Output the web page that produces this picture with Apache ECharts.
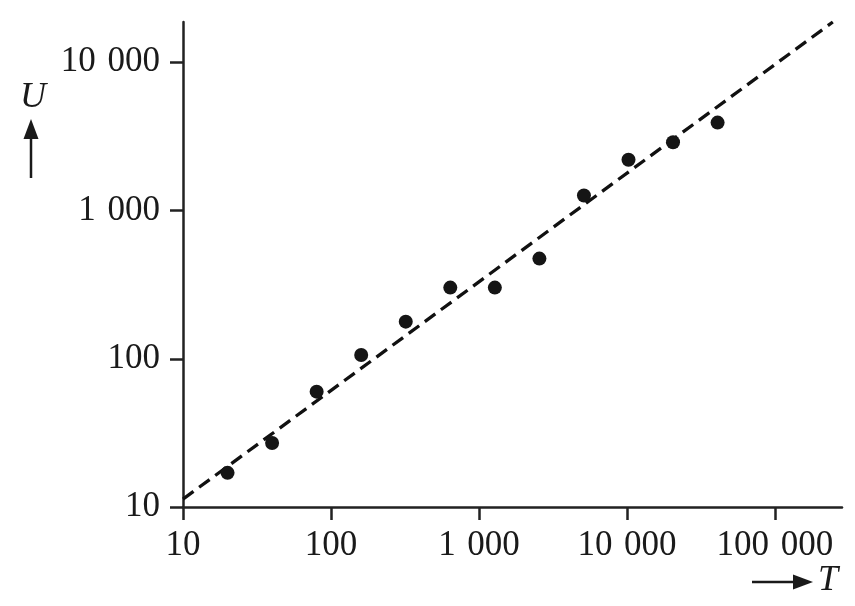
<!DOCTYPE html>
<html>
<head>
<meta charset="utf-8">
<script src="https://cdn.jsdelivr.net/npm/echarts@6/dist/echarts.min.js"></script>
<style>
html,body{margin:0;padding:0;background:#fff;}
#chart{width:855px;height:606px;}
</style>
</head>
<body>
<div id="chart"></div>
<script>
// Data
var T = [20, 40, 80, 160, 320, 640, 1280, 2560, 5120, 10240, 20480, 40960];
var U = [17, 27, 60, 106, 178, 302, 302, 474, 1262, 2200, 2890, 3920];
// Fitted dashed line (two end points)
var fitT = [10, 246000];
var fitU = [11.3, 18700];
// Axis ticks and labels
var xTickValues = [10, 100, 1000, 10000, 100000];
var xTickLabels = ['10', '100', '1\u2004000', '10\u2004000', '100\u2004000'];
var yTickValues = [10, 100, 1000, 10000];
var yTickLabels = ['10', '100', '1\u2004000', '10\u2004000'];
var xMax = 283800;
var yMax = 18700;

var font = '"Liberation Serif", "Times New Roman", serif';
var ink = '#1a1a1a';

function fmt(values, labels) {
  return function (v) {
    for (var i = 0; i < values.length; i++) {
      if (Math.abs(v - values[i]) / values[i] < 1e-6) return labels[i];
    }
    return '';
  };
}

var chart = echarts.init(document.getElementById('chart'), null, {renderer: 'canvas'});
chart.setOption({
  backgroundColor: '#ffffff',
  animation: false,
  grid: {left: 183, right: 13, top: 22, bottom: 99, containLabel: false},
  xAxis: {
    type: 'log', logBase: 10, min: 10, max: xMax,
    axisLine: {show: true, onZero: false, lineStyle: {color: '#222', width: 2.5}},
    axisTick: {show: true, inside: false, length: 13, customValues: xTickValues, lineStyle: {color: '#222', width: 2.5}},
    axisLabel: {show: true, customValues: xTickValues, formatter: fmt(xTickValues, xTickLabels),
      fontFamily: font, fontSize: 35, color: ink, margin: 21},
    splitLine: {show: false},
    minorTick: {show: false}
  },
  yAxis: {
    type: 'log', logBase: 10, min: 10, max: yMax,
    axisLine: {show: true, onZero: false, lineStyle: {color: '#222', width: 2.5}},
    axisTick: {show: true, inside: false, length: 13, customValues: yTickValues, lineStyle: {color: '#222', width: 2.5}},
    axisLabel: {show: true, customValues: yTickValues, formatter: fmt(yTickValues, yTickLabels),
      fontFamily: font, fontSize: 35, color: ink, margin: 23},
    splitLine: {show: false},
    minorTick: {show: false}
  },
  series: [
    {
      type: 'line',
      data: fitT.map(function (t, i) { return [t, fitU[i]]; }),
      showSymbol: false,
      symbol: 'none',
      lineStyle: {color: '#111111', width: 3.3, type: [13, 7]},
      z: 2
    },
    {
      type: 'scatter',
      data: T.map(function (t, i) { return [t, U[i]]; }),
      symbol: 'circle',
      symbolSize: 14,
      itemStyle: {color: '#151515', opacity: 1},
      z: 3
    }
  ],
  graphic: [
    {type: 'text', left: 20, top: 80, style: {text: 'U', font: 'italic 36px ' + font, fill: ink}},
    {type: 'line', shape: {x1: 31, y1: 178, x2: 31, y2: 132}, style: {stroke: ink, lineWidth: 2.5}},
    {type: 'polygon', shape: {points: [[31, 119], [23.5, 139], [38.5, 139]]}, style: {fill: ink}},
    {type: 'text', left: 818, top: 563, style: {text: 'T', font: 'italic 36px ' + font, fill: ink}},
    {type: 'line', shape: {x1: 752, y1: 582, x2: 800, y2: 582}, style: {stroke: ink, lineWidth: 2.5}},
    {type: 'polygon', shape: {points: [[813, 582], [793, 574.5], [793, 589.5]]}, style: {fill: ink}}
  ]
});
</script>
</body>
</html>
